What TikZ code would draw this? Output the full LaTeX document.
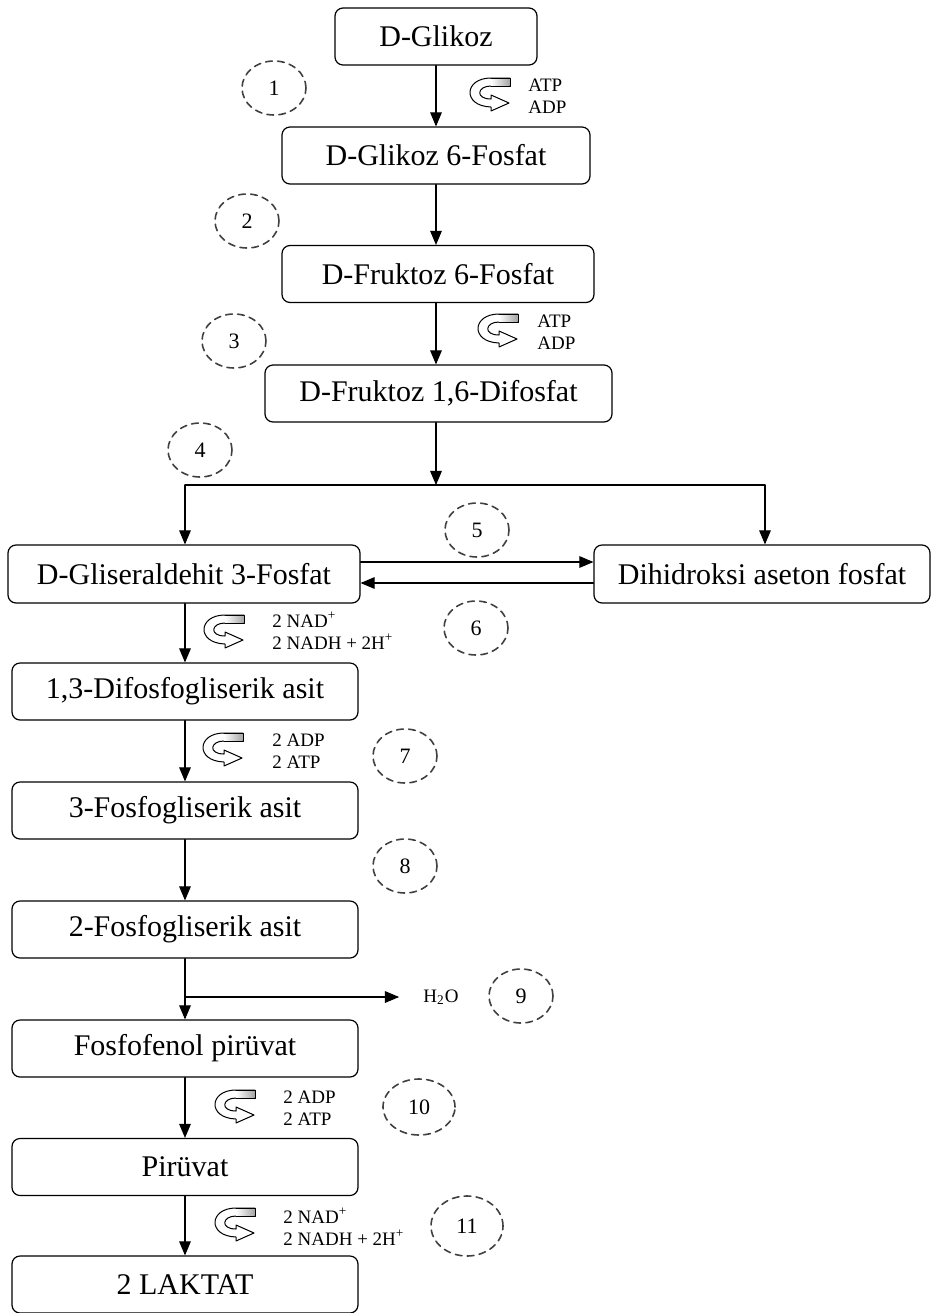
\documentclass[tikz,border=0pt]{standalone}
\usepackage{fontspec}
\setmainfont{Liberation Serif}
\usetikzlibrary{arrows,calc,shapes.geometric}

\tikzset{
  cofarrow/.pic={
    \draw[line width=0.5pt,fill=white] (21,-16) -- (21,-8) -- (2,-8)
      .. controls (-12,-8) and (-14,5) .. (2,5) -- (2,1) -- (20,9) -- (2,17) -- (2,13)
      .. controls (-27,12) and (-25,-16) .. (2,-16) -- cycle;
    \shade[left color=white,right color=gray!70] (2,-15.6) rectangle (20.6,-8.4);
    \draw[line width=0.5pt] (2,-16) -- (21,-16) -- (21,-8) -- (2,-8);
  }
}

\begin{document}
\begin{tikzpicture}[line cap=round,line join=round,>=triangle 45,x=0.5pt,y=-0.5pt,
  box/.style={draw,line width=0.6pt,rounded corners=4pt,inner sep=0pt,minimum height=28.5pt,font=\fontsize{15}{17}\selectfont},
  stepcircle/.style={ellipse,draw=black!75,dash pattern=on 3.4pt off 2.6pt,line width=0.8pt,minimum width=32pt,minimum height=27pt,inner sep=0pt,font=\fontsize{11}{13}\selectfont},
  cof/.style={anchor=west,align=left,inner sep=0pt,font=\fontsize{9.5}{11}\selectfont},
  flow/.style={->,line width=0.6pt}]
 		\useasboundingbox (0,0) rectangle (932,1313);
 		% boxes
 		\node[box,minimum width=101pt] (glikoz) at (436,36.5) {D-Glikoz};
 		\node[box,minimum width=154pt] (g6p) at (436,155.5) {D-Glikoz 6-Fosfat};
 		\node[box,minimum width=156pt] (f6p) at (438,274) {D-Fruktoz 6-Fosfat};
 		\node[box,minimum width=173.5pt] (f16dp) at (438.5,393.5) {D-Fruktoz 1,6-Difosfat};
 		\node[box,minimum width=176pt,minimum height=29pt] (gap) at (184,574) {D-Gliseraldehit 3-Fosfat};
 		\node[box,minimum width=168pt,minimum height=29pt] (dhap) at (762,574) {Dihidroksi aseton fosfat};
 		\node[box,minimum width=173pt] (dpg) at (185,691.5) {1,3-Difosfogliserik asit};
 		\node[box,minimum width=173pt] (pg3) at (185,810.5) {3-Fosfogliserik asit};
 		\node[box,minimum width=173pt] (pg2) at (185,929.5) {2-Fosfogliserik asit};
 		\node[box,minimum width=173pt] (pep) at (185,1048.5) {Fosfofenol pir\"uvat};
 		\node[box,minimum width=173pt] (piruvat) at (185,1167) {Pir\"uvat};
 		\node[box,minimum width=173pt] (laktat) at (185,1284.5) {2 LAKTAT};
 		% main arrows
 		\draw[flow] (glikoz) -- (g6p);
 		\draw[flow] (g6p) -- (g6p.south |- f6p.north);
 		\draw[flow] (g6p.south |- f6p.south) -- (g6p.south |- f16dp.north);
 		\coordinate (split) at (436,485);
 		\coordinate (splitl) at (185,485);
 		\coordinate (splitr) at (765,485);
 		\draw[flow] (g6p.south |- f16dp.south) -- (split);
 		\draw[line width=0.6pt] (splitl) -- (splitr);
 		\draw[flow] (splitl) -- (splitl |- gap.north);
 		\draw[flow] (splitr) -- (splitr |- dhap.north);
 		\draw[flow] ($(gap.east)+(0,-12)$) -- ($(dhap.west)+(0,-12)$);
 		\draw[flow] ($(dhap.west)+(0,9)$) -- ($(gap.east)+(0,9)$);
 		\draw[flow] (dpg.north |- gap.south) -- (dpg);
 		\draw[flow] (dpg) -- (pg3);
 		\draw[flow] (pg3) -- (pg2);
 		\draw[flow] (pg2) -- (pep);
 		\draw[flow] (pep) -- (piruvat);
 		\draw[flow] (piruvat) -- (laktat);
 		\coordinate (water) at (185,997);
 		\node[inner xsep=12pt,inner ysep=0pt,font=\fontsize{9.5}{11}\selectfont] (h2o) at (441,997) {H\textsubscript{2}O};
 		\draw[flow] (water) -- (h2o.west);
 		% cofactors
 		\pic at (489,94) {cofarrow};
 		\node[cof] (c1) at (528,96) {ATP\\ADP};
 		\pic at (497,330) {cofarrow};
 		\node[cof] (c3) at (537,332) {ATP\\ADP};
 		\pic at (223,631) {cofarrow};
 		\node[cof] (c6) at (272,631) {2 NAD\textsuperscript{+}\\2 NADH + 2H\textsuperscript{+}};
 		\pic at (222,749) {cofarrow};
 		\node[cof] (c7) at (272,751) {2 ADP\\2 ATP};
 		\pic at (234,1106) {cofarrow};
 		\node[cof] (c10) at (283,1108) {2 ADP\\2 ATP};
 		\pic at (234,1224) {cofarrow};
 		\node[cof] (c11) at (283,1227) {2 NAD\textsuperscript{+}\\2 NADH + 2H\textsuperscript{+}};
 		% enzyme steps
 		\node[stepcircle] (s1) at (274,88) {1};
 		\node[stepcircle] (s2) at (247,221) {2};
 		\node[stepcircle] (s3) at (234,341) {3};
 		\node[stepcircle] (s4) at (200,450) {4};
 		\node[stepcircle] (s5) at (477,530) {5};
 		\node[stepcircle] (s6) at (476,628) {6};
 		\node[stepcircle] (s7) at (405,756) {7};
 		\node[stepcircle] (s8) at (405,866) {8};
 		\node[stepcircle] (s9) at (521,996) {9};
 		\node[stepcircle,minimum width=36pt,minimum height=28pt] (s10) at (419,1107) {10};
 		\node[stepcircle,minimum width=36pt,minimum height=30pt] (s11) at (467,1226) {11};
 	\end{tikzpicture}
\end{document}
